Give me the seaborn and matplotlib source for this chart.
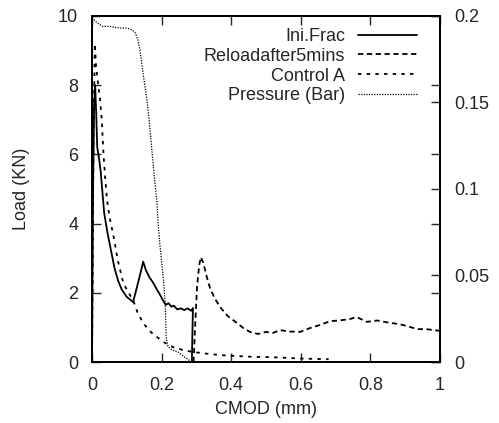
import pandas as pd
import matplotlib
matplotlib.use("Agg")
import matplotlib.pyplot as plt
import seaborn as sns

# Ini.Frac (solid)
ini_x = [0, 0.003, 0.006, 0.009, 0.012, 0.015, 0.02, 0.025, 0.03, 0.035, 0.045, 0.055,
         0.065, 0.075, 0.085, 0.1, 0.11, 0.118, 0.13, 0.14, 0.147, 0.155, 0.165, 0.175,
         0.185, 0.195, 0.204, 0.212, 0.22, 0.228, 0.235, 0.245, 0.255, 0.265, 0.275,
         0.285, 0.29, 0.288, 0.287]
ini_y = [0, 5.0, 7.5, 8.0, 7.2, 6.2, 5.9, 5.5, 4.9, 4.3, 3.7, 3.2,
         2.7, 2.35, 2.1, 1.88, 1.8, 1.73, 2.2, 2.6, 2.9, 2.65, 2.45, 2.3,
         2.12, 1.95, 1.78, 1.65, 1.7, 1.6, 1.63, 1.52, 1.55, 1.5, 1.55,
         1.48, 1.56, 0.6, 0]

# Reloadafter5mins (dashed)
rel_x = [0.292, 0.296, 0.302, 0.308, 0.313, 0.32, 0.33, 0.339, 0.352, 0.368, 0.39, 0.416,
         0.435, 0.454, 0.477, 0.5, 0.52, 0.54, 0.57, 0.598, 0.626, 0.655, 0.684, 0.71,
         0.741, 0.76, 0.79, 0.82, 0.856, 0.88, 0.905, 0.934, 0.96, 1.0]
rel_y = [0, 1.0, 2.2, 2.8, 3.03, 2.86, 2.45, 2.14, 1.85, 1.59, 1.33, 1.13,
         0.98, 0.87, 0.81, 0.87, 0.84, 0.92, 0.88, 0.87, 0.98, 1.07, 1.18, 1.2,
         1.24, 1.3, 1.16, 1.2, 1.13, 1.1, 1.04, 0.95, 0.95, 0.9]

# Control A (short dashes)
ctl_x = [0, 0.004, 0.008, 0.012, 0.018, 0.023, 0.028, 0.033, 0.038, 0.043, 0.05, 0.06,
         0.075, 0.09, 0.105, 0.118, 0.13, 0.147, 0.165, 0.187, 0.21, 0.233, 0.26, 0.29,
         0.33, 0.368, 0.42, 0.46, 0.51, 0.56, 0.6, 0.64, 0.68]
ctl_y = [0, 6.0, 9.2, 8.5, 8.0, 7.6, 7.0, 6.0, 5.3, 4.7, 4.2, 3.73,
         2.9, 2.28, 2.0, 1.79, 1.45, 1.13, 0.9, 0.72, 0.55, 0.43, 0.35, 0.29,
         0.24, 0.2, 0.17, 0.15, 0.14, 0.12, 0.1, 0.09, 0.08]

# Pressure (Bar) on right axis (fine dots)
prs_x = [0, 0.005, 0.015, 0.03, 0.05, 0.08, 0.1, 0.115, 0.125, 0.132, 0.138, 0.148,
         0.158, 0.165, 0.172, 0.18, 0.186, 0.19, 0.195, 0.2, 0.205, 0.21, 0.213,
         0.218, 0.23, 0.247, 0.265, 0.287]
prs_y = [0.199, 0.198, 0.196, 0.194, 0.194, 0.193, 0.193, 0.192, 0.19, 0.186, 0.18, 0.165,
         0.151, 0.138, 0.1225, 0.105, 0.094, 0.08, 0.068, 0.058, 0.048, 0.035, 0.015,
         0.009, 0.007, 0.0058, 0.003, 0.0]

x_ticks = [0, 0.2, 0.4, 0.6, 0.8, 1]
x_labels = ["0", "0.2", "0.4", "0.6", "0.8", "1"]
y_ticks = [0, 2, 4, 6, 8, 10]
y2_ticks = [0, 0.05, 0.1, 0.15, 0.2]
y2_labels = ["0", "0.05", "0.1", "0.15", "0.2"]

sns.set_style("ticks")
plt.rcParams["font.family"] = ["Liberation Sans", "DejaVu Sans"]
plt.rcParams["font.size"] = 13

fig = plt.figure(figsize=(4.99, 4.23), dpi=100)
ax = fig.add_axes([0.1844, 0.1442, 0.6974, 0.8180])
ax2 = ax.twinx()

lw = 1.3
sns.lineplot(data=pd.DataFrame({"x": ini_x, "y": ini_y}), x="x", y="y", ax=ax,
             sort=False, estimator=None, color="black", lw=lw, label="Ini.Frac")
sns.lineplot(data=pd.DataFrame({"x": rel_x, "y": rel_y}), x="x", y="y", ax=ax,
             sort=False, estimator=None, color="black", lw=lw,
             linestyle=(0, (2.9, 2.0)), label="Reloadafter5mins")
sns.lineplot(data=pd.DataFrame({"x": ctl_x, "y": ctl_y}), x="x", y="y", ax=ax,
             sort=False, estimator=None, color="black", lw=lw,
             linestyle=(0, (1.9, 2.9)), label="Control A")
sns.lineplot(data=pd.DataFrame({"x": prs_x, "y": prs_y}), x="x", y="y", ax=ax2,
             sort=False, estimator=None, color="black", lw=0.9,
             linestyle=(0, (1, 1.1)), label="Pressure (Bar)")

ax.set_xlim(0, 1)
ax.set_ylim(0, 10)
ax2.set_ylim(0, 0.2)
ax.set_xticks(x_ticks)
ax.set_xticklabels(x_labels)
ax.set_yticks(y_ticks)
ax2.set_yticks(y2_ticks)
ax2.set_yticklabels(y2_labels)

ax.tick_params(direction="in", length=6.5, width=1, top=True, right=True,
               labelright=False, labelsize=13)
ax.tick_params(axis="x", pad=11)
ax.tick_params(axis="y", pad=10)
ax2.tick_params(direction="in", length=6.5, width=1, pad=10, labelsize=13)
for a in (ax, ax2):
    for s in a.spines.values():
        s.set_linewidth(1.3)
        s.set_color("black")

ax.set_xlabel("CMOD (mm)", fontsize=13, labelpad=5)
ax.set_ylabel("Load (KN)", fontsize=13, labelpad=20)
ax2.set_ylabel("")

h1, l1 = ax.get_legend_handles_labels()
h2, l2 = ax2.get_legend_handles_labels()
if ax.get_legend() is not None:
    ax.get_legend().remove()
ax2.legend(h1 + h2, l1 + l2, loc="upper right", bbox_to_anchor=(0.935, 0.965),
           frameon=False, markerfirst=False, handlelength=3.3, handletextpad=0.7,
           labelspacing=0.15, borderaxespad=0, borderpad=0, fontsize=13)

fig.savefig("out.png", dpi=100)
